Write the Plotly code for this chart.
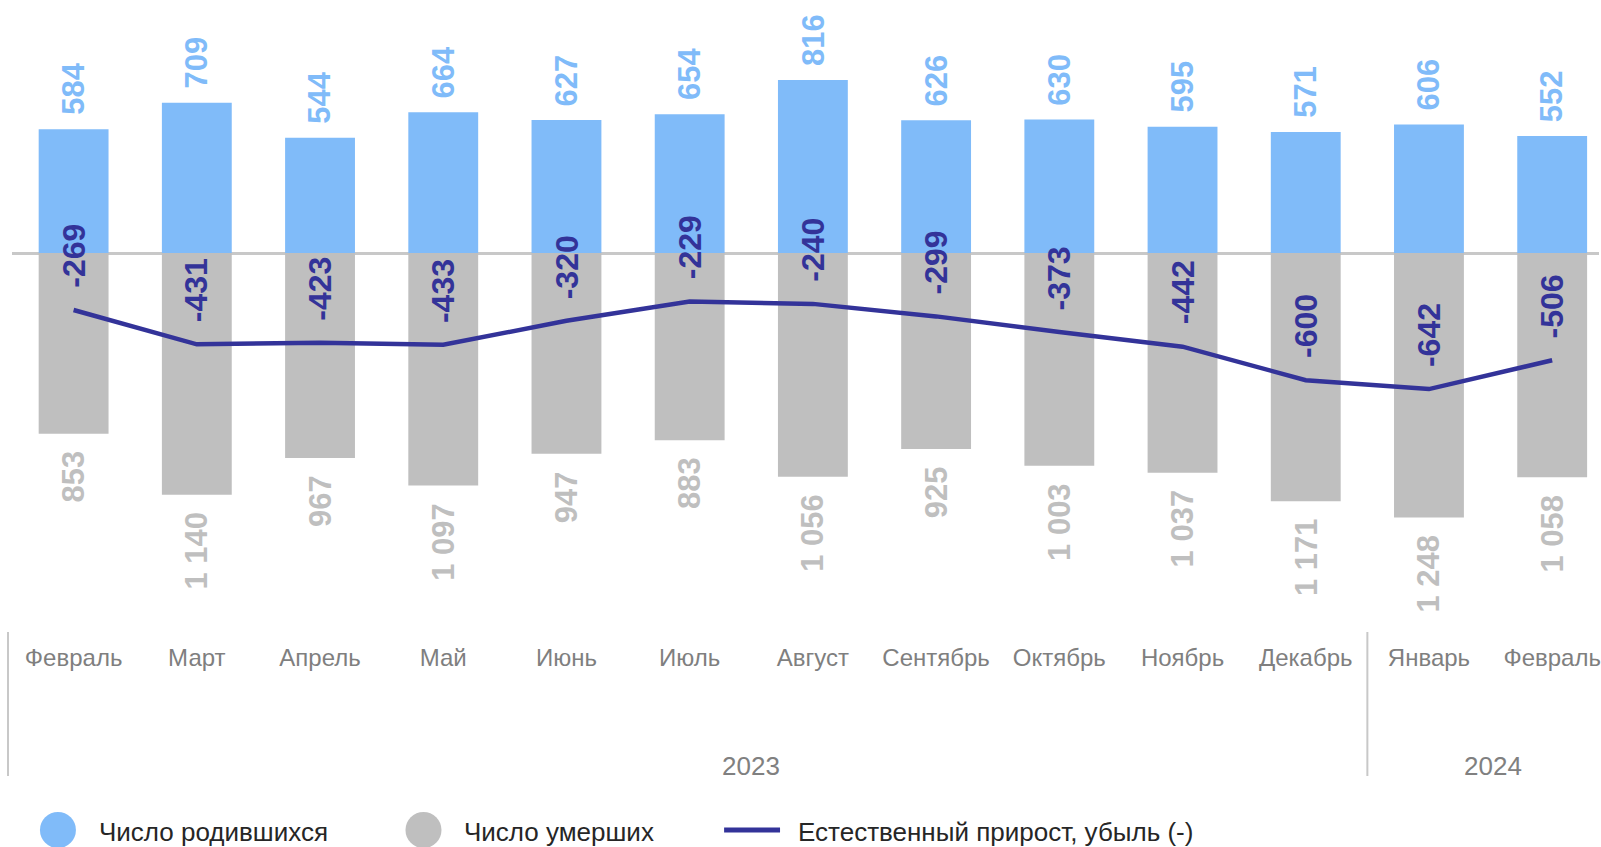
import plotly.graph_objects as go

months = ["Февраль", "Март", "Апрель", "Май", "Июнь", "Июль", "Август",
          "Сентябрь", "Октябрь", "Ноябрь", "Декабрь", "Январь", "Февраль"]
years = ["2023", "2024"]
year_spans = [(0, 10), (11, 12)]
births = [584, 709, 544, 664, 627, 654, 816, 626, 630, 595, 571, 606, 552]
deaths = [853, 1140, 967, 1097, 947, 883, 1056, 925, 1003, 1037, 1171, 1248, 1058]
natural = [-269, -431, -423, -433, -320, -229, -240, -299, -373, -442, -600, -642, -506]

C_BIRTH = "#80BBF9"
C_DEATH = "#BFBFBF"
C_LINE = "#333399"
FONT = "Arial, Liberation Sans, sans-serif"

W, H = 1601, 847
PLOT_BOTTOM = 632
ML, MR, MT = 12, 0, 0
MB = H - PLOT_BOTTOM
PW, PH = W - ML - MR, H - MT - MB
ZERO_PX = 253
UNITS_PER_PX = 1 / 0.212
y_top = ZERO_PX * UNITS_PER_PX
y_bot = -(PH - ZERO_PX) * UNITS_PER_PX

x = list(range(len(months)))

def fmt(v):
    return f"{v:,}".replace(",", " ")

fig = go.Figure()
fig.add_trace(go.Bar(x=x, y=births, marker=dict(color=C_BIRTH, line=dict(width=0)),
                     width=0.567, name="Число родившихся", showlegend=False, hoverinfo="y"))
fig.add_trace(go.Bar(x=x, y=[-d for d in deaths], marker=dict(color=C_DEATH, line=dict(width=0)),
                     width=0.567, name="Число умерших", showlegend=False, hoverinfo="y"))
fig.add_trace(go.Scatter(x=x, y=natural, mode="lines", line=dict(color=C_LINE, width=4.5),
                         name="Естественный прирост, убыль (-)", showlegend=False))

ann = []
for i in x:
    ann.append(dict(x=i, y=births[i], xref="x", yref="y", text=f"<b>{fmt(births[i])}</b>",
                    textangle=-90, showarrow=False, yanchor="bottom", yshift=12,
                    font=dict(family=FONT, size=31, color=C_BIRTH)))
    ann.append(dict(x=i, y=-deaths[i], xref="x", yref="y", text=f"<b>{fmt(deaths[i])}</b>",
                    textangle=-90, showarrow=False, yanchor="top", yshift=-15,
                    font=dict(family=FONT, size=31, color=C_DEATH)))
    ann.append(dict(x=i, y=natural[i], xref="x", yref="y", text=f"<b>{fmt(natural[i])}</b>",
                    textangle=-90, showarrow=False, yanchor="bottom", yshift=20,
                    font=dict(family=FONT, size=32, color=C_LINE)))

# year labels
year_x = [5.5, 11.52]
for yx, yl in zip(year_x, years):
    ann.append(dict(x=yx, y=0, xref="x", yref="paper", text=yl, showarrow=False,
                    yanchor="middle", yshift=-(766 - PLOT_BOTTOM),
                    font=dict(family=FONT, size=26, color="#808080")))

shapes = []
div_top = 0
div_bot = -(776 - PLOT_BOTTOM) / PH
def px_x(p):
    return (p - ML) / PW
shapes.append(dict(type="line", xref="paper", yref="paper", x0=px_x(8), x1=px_x(8),
                   y0=div_top, y1=div_bot, line=dict(color="#C8C8C8", width=2)))
shapes.append(dict(type="line", xref="x", yref="paper", x0=year_spans[0][1] + 0.5, x1=year_spans[0][1] + 0.5,
                   y0=div_top, y1=div_bot, line=dict(color="#C8C8C8", width=2)))

# legend (manual)
leg_y = -(830 - PLOT_BOTTOM) / PH
for cx, col in [(58, C_BIRTH), (424, C_DEATH)]:
    shapes.append(dict(type="circle", xref="paper", yref="paper", xsizemode="pixel", ysizemode="pixel",
                       xanchor=px_x(cx), yanchor=leg_y, x0=-18, x1=18, y0=-18, y1=18,
                       fillcolor=col, line=dict(width=0)))
shapes.append(dict(type="line", xref="paper", yref="paper", x0=px_x(725), x1=px_x(781),
                   y0=leg_y, y1=leg_y, line=dict(color=C_LINE, width=5)))
for tx, t in [(97, "Число родившихся"), (463, "Число умерших"), (797, "Естественный прирост, убыль (-)")]:
    ann.append(dict(x=px_x(tx), y=leg_y, xref="paper", yref="paper", text=t, showarrow=False,
                    xanchor="left", yanchor="middle", yshift=-2,
                    font=dict(family=FONT, size=26, color="#262626")))

fig.update_layout(
    width=W, height=H, margin=dict(l=ML, r=MR, t=MT, b=MB),
    paper_bgcolor="white", plot_bgcolor="white",
    barmode="relative", showlegend=False,
    annotations=ann, shapes=shapes,
    xaxis=dict(range=[-0.5, 12.38], tickmode="array", tickvals=x, ticktext=months,
               showgrid=False, zeroline=False, showline=False, ticks="",
               ticklabeloverflow="allow",
               tickfont=dict(family=FONT, size=24, color="#7F7F7F"), ticklabelstandoff=9),
    yaxis=dict(range=[y_bot, y_top], showgrid=False, showticklabels=False, ticks="",
               zeroline=True, zerolinecolor="#C8C8C8", zerolinewidth=2.5, showline=False),
)

fig.write_html("out.html", config={"displayModeBar": False},
               post_script="document.body.style.margin='0';document.body.style.overflow='hidden';")
